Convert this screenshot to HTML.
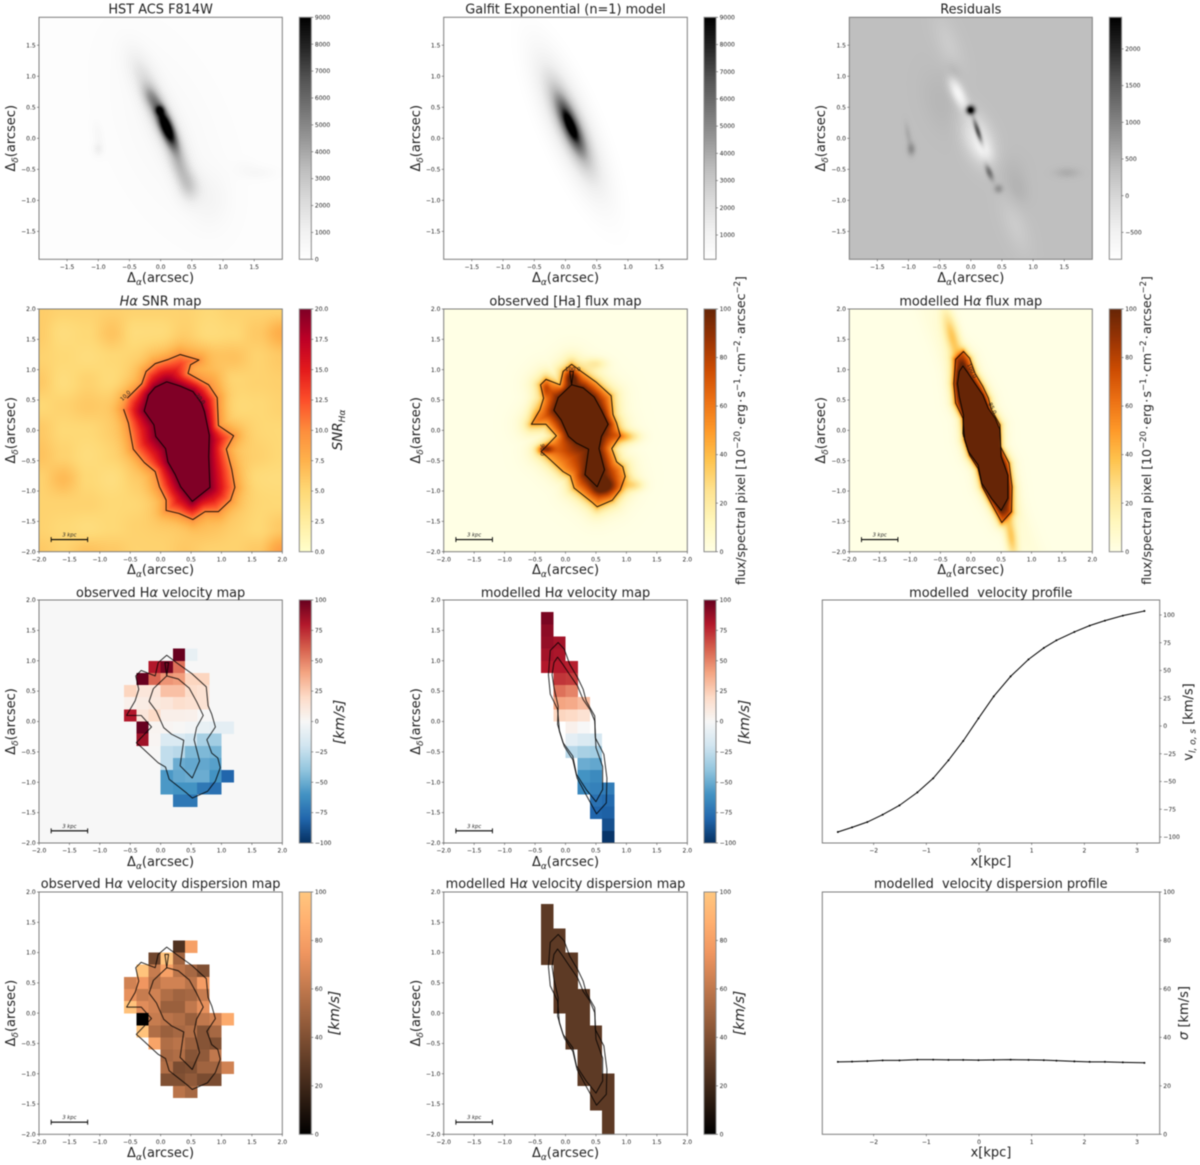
<!DOCTYPE html>
<html lang="en">
<head>
<meta charset="utf-8">
<title>Galaxy H-alpha maps and profiles</title>
<style>
html,body{margin:0;padding:0;background:#fff;}
#figure{position:relative;width:1200px;height:1165px;overflow:hidden;background:#fff;filter:blur(0.45px);}
#figure canvas{position:absolute;display:block;}
#figure svg{position:absolute;left:0;top:0;}
text{font-family:"DejaVu Sans","Liberation Sans",sans-serif;fill:#222;}
</style>
</head>
<body>
<div id="figure"></div>
<script>
/* ---------- chart data ---------- */
const _ = null;

/* observed velocity map: 0.2" spaxels, first column left edge -0.6, first row top edge 1.2 */
const velocityObserved = [
[_,_,_,_,100,-8,_,_,_],
[_,_,80,96,55,_,_,_,_],
[_,100,58,45,42,22,22,_,_],
[22,12,12,30,30,18,15,_,_],
[5,8,10,12,17,15,15,_,_],
[80,12,20,6,6,5,_,_,_],
[_,100,3,2,1,-2,-8,-10,-10],
[_,85,2,-15,-15,-20,-33,-35,_],
[_,_,1,-25,-28,-45,-45,-47,_],
[_,_,_,-25,-50,-52,-52,-55,_],
[_,_,_,-58,-52,-50,-50,-60,-80],
[_,_,_,-58,-60,-60,-72,-75,_],
[_,_,_,_,-72,-72,_,_,_]];

const dispersionObserved = [
[_,_,_,_,25,80,_,_,_],
[_,_,35,98,50,_,_,_,_],
[_,98,62,80,58,52,40,_,_],
[65,75,58,65,65,58,78,_,_],
[72,62,65,55,50,52,62,_,_],
[97,70,65,48,48,60,72,_,_],
[_,0,62,58,55,48,60,65,85],
[_,98,55,48,52,55,42,52,_],
[_,_,82,55,58,48,42,40,_],
[_,_,_,52,55,42,45,60,_],
[_,_,_,55,38,40,50,50,65],
[_,_,_,40,40,45,38,38,_],
[_,_,_,_,58,52,_,_,_]];

/* modelled maps: first column left edge -0.4, first row top edge 1.8 */
const velocityModel = [
[95,_,_,_,_,_],[90,_,_,_,_,_],[88,84,_,_,_,_],[84,82,_,_,_,_],
[80,80,78,_,_,_],[_,72,70,_,_,_],[_,55,50,_,_,_],[_,40,38,32,_,_],
[_,22,20,15,_,_],[_,_,5,0,_,_],[_,_,-10,-15,-18,_],[_,_,-28,-33,-35,_],
[_,_,_,-50,-52,_],[_,_,_,-60,-64,_],[_,_,_,-65,-68,-70],[_,_,_,_,-75,-78],
[_,_,_,_,-80,-82],[_,_,_,_,_,-88],[_,_,_,_,_,-98]];

const dispersionModel = [
[29,_,_,_,_,_],[29,_,_,_,_,_],[29,29,_,_,_,_],[29,29,_,_,_,_],
[29,29,29,_,_,_],[_,29,29,_,_,_],[_,29,29,_,_,_],[_,29,29,29,_,_],
[_,29,29,29,_,_],[_,_,29,29,_,_],[_,_,29,29,29,_],[_,_,29,29,29,_],
[_,_,_,29,29,_],[_,_,_,29,29,_],[_,_,_,29,29,29],[_,_,_,_,29,29],
[_,_,_,_,29,29],[_,_,_,_,_,29],[_,_,_,_,_,29]];

/* profiles */
const profileRadius = [-2.68,-2.41,-2.12,-1.83,-1.51,-1.17,-0.87,-0.58,-0.30,-0.01,0.28,0.60,0.94,1.23,1.47,1.81,2.10,2.39,2.73,3.14];
const profileVelocity = [-95.5,-91.3,-86.5,-79.9,-71.5,-59.8,-47.1,-30.9,-13.5,6.9,26.7,44.7,60,70.3,77.2,84.7,90.4,94.9,99.4,103.6];
const profileDispersion = [29.9,30,30.2,30.5,30.5,30.8,30.8,30.7,30.7,30.6,30.7,30.8,30.7,30.6,30.4,30.1,29.9,29.9,29.7,29.5];

/* contours, arcsec */
const snrContour10 = [[-.61,.35],[-.53,.12],[-.45,-.31],[-.27,-.53],[-.09,-.68],[-.02,-.93],[.09,-1.15],[.09,-1.32],[.30,-1.37],[.53,-1.47],[.73,-1.34],[.95,-1.34],[1.15,-1.15],[1.22,-.94],[1.17,-.65],[1.08,-.31],[1.20,-.09],[.95,.08],[.93,.54],[.79,.75],[.45,.94],[.49,1.08],[.63,1.16],[.32,1.25],[.13,1.17],[-.09,1.10],[-.24,.97],[-.31,.77],[-.39,.69],[-.55,.53]];
const snrContour20 = [[.10,.80],[-.09,.71],[-.20,.58],[-.27,.32],[-.11,.09],[-.08,-.10],[.08,-.30],[.12,-.52],[.24,-.73],[.33,-.93],[.52,-1.17],[.81,-.94],[.79,-.43],[.80,-.08],[.72,.31],[.67,.45],[.53,.64],[.32,.73],[.10,.80]];
const obsFluxOuter = [[.10,1.09],[.26,.97],[.51,.79],[.75,.57],[.78,.26],[.84,.12],[.90,-.09],[.76,-.30],[.84,-.52],[.94,-.60],[.98,-.76],[.90,-.98],[.77,-1.15],[.52,-1.26],[.43,-1.18],[.14,-.95],[.08,-.75],[-.04,-.68],[-.32,-.42],[-.40,-.35],[-.15,-.09],[-.32,.10],[-.56,.10],[-.42,.34],[-.36,.53],[-.41,.75],[-.32,.84],[-.09,.75],[-.04,.97],[.10,1.09]];
const obsFluxInner = [[.10,.75],[.29,.70],[.47,.55],[.59,.33],[.70,.10],[.59,-.10],[.55,-.30],[.64,-.65],[.52,-.93],[.32,-.73],[.38,-.31],[.18,-.21],[.05,-.10],[-.07,.17],[-.19,.33],[-.12,.54],[.10,.75]];
const obsFluxKnot = [[.10,.75],[.07,.97],[.13,.97],[.10,.75]];
const modelFluxOuter = [[-.12,1.30],[-.02,1.19],[.07,.94],[.20,.72],[.29,.53],[.34,.34],[.48,.09],[.49,-.27],[.63,-.54],[.68,-.93],[.67,-1.34],[.51,-1.52],[.34,-1.21],[.19,-.93],[.12,-.63],[-.02,-.41],[-.10,-.16],[-.13,.20],[-.25,.45],[-.28,.77],[-.25,1.17],[-.12,1.30]];
const modelFluxInner = [[-.13,1.06],[-.05,.95],[.07,.77],[.20,.58],[.29,.36],[.40,.20],[.48,.01],[.50,-.43],[.61,-.74],[.61,-1.12],[.50,-1.32],[.34,-1.12],[.18,-.87],[.12,-.57],[-.04,-.35],[-.13,-.05],[-.12,.25],[-.19,.56],[-.22,.77],[-.19,.97],[-.13,1.06]];

/* SNR background levels on a 0.4" grid, top row y=2.0, left column x=-2.0 */
const snrBackground = [
[5.8,5.4,5.4,5.6,5.4,5.4,5.4,5,5.4,5.4,5.4],
[5.8,4.6,5,6.3,4.6,4.6,5.4,4.6,5,6,7.8],
[5.4,5,4.6,5,5,5.4,6,6,6.4,5.4,6],
[6,4.6,5.4,4.6,5.4,6.4,7.4,7,5,5.4,5.6],
[5,5.4,6,5.4,6.4,7.4,7.4,6.4,4.6,5,5.4],
[6,5,5,5.4,6,7.4,7.4,6.4,5.4,5,5],
[6.4,5.4,4.6,5,5.4,7.4,7.4,6.4,5.4,5.4,5],
[5.4,6.9,5,4.4,5.4,6.4,7.4,6.4,5.4,4.6,4.6],
[5.4,5.4,5.4,5,5,5.4,7.4,6.4,5.4,5,5],
[5.4,5,4.6,5,5.4,5.4,5.4,6,5.4,5,6],
[6,5.4,6.4,6,5.4,5.4,6,5.4,5.4,6,8.8]];

/* image components: [x, y, major sigma, minor sigma, angle from vertical deg, amplitude] */
const hstComponents = [
[.10,.17,.23,.07,22,7800],[-.01,.45,.05,.05,0,3500],[.05,.25,.45,.13,24,3100],
[.32,-.5,.27,.11,20,2300],[.47,-.8,.17,.13,0,1350],[-.15,.65,.16,.09,25,2000],
[-.3,1.05,.3,.14,25,1000],[.8,-1.0,.3,.2,0,480],[.1,.1,1.1,.55,23,340],
[-1.0,-.18,.07,.055,0,900],[-1.0,.05,.14,.055,10,380],[1.55,-.56,.07,.2,0,400],[1.35,-.45,.07,.12,0,180]];
const imageBackground = [130];
const galfitDisk = [.08,.2,.45,.12,23,14000];
const residualBase = [340];
const residualComponents = [
[.0,.45,.05,.05,0,2600],[.12,.1,.14,.03,18,1900],[.3,-.55,.09,.035,22,1000],[.45,-.82,.05,.05,0,500],
[-.95,-.18,.07,.045,0,520],[-1.0,.05,.13,.035,10,220],[1.55,-.56,.06,.14,0,200],
[.75,-.85,.2,.13,10,130],[-.3,1.05,.12,.1,15,220],[-.45,.55,.4,.22,20,100],[.6,-.5,.2,.2,0,70],
[-.2,.72,.2,.07,25,-950],[.12,-.02,.3,.16,22,-700],[.22,-.2,.12,.08,30,-350],
[-.35,1.5,.35,.14,20,-180],[.72,-1.4,.35,.14,20,-180]];
const obsFluxComponents = [
[-.33,-.30,.05,.09,0,45],[.68,-.92,.1,.14,0,32],[.1,.88,.08,.08,0,32],[-.33,.68,.1,.05,0,20],
[1.0,-.1,.07,.15,0,26],[1.12,-.9,.07,.12,0,20],[.5,1.1,.07,.13,0,15],[-.5,.3,.15,.08,0,10]];
const modelFluxComponents = [
[-.3,1.55,.32,.085,15,34],[.67,-1.75,.28,.07,8,34],[.2,-.1,1.6,.13,23,8]];

/* tick labels */
const ticksOffset15 = [-1.5,-1,-0.5,0,0.5,1,1.5];
const ticksOffset20 = [-2,-1.5,-1,-0.5,0,0.5,1,1.5,2];
const ticksPhot = [0,1000,2000,3000,4000,5000,6000,7000,8000,9000];
const ticksModel = [1000,2000,3000,4000,5000,6000,7000,8000,9000];
const ticksResidual = [-500,0,500,1000,1500,2000];
const ticksSnr = [0,2.5,5,7.5,10,12.5,15,17.5,20];
const ticksFlux = [0,20,40,60,80,100];
const ticksVelocity = [-100,-75,-50,-25,0,25,50,75,100];
const ticksRadius = [-2,-1,0,1,2,3];
const ticksProfileDisp = [0,20,40,60,80,100];

/* colour maps */
const cmGreys = ['#ffffff','#f0f0f0','#d9d9d9','#bdbdbd','#969696','#737373','#525252','#252525','#000000'];
const cmYlOrBr = ['#ffffe5','#fff7bc','#fee391','#fec44f','#fe9929','#ec7014','#cc4c02','#993404','#662506'];
const cmYlOrRd = ['#ffffcc','#ffeda0','#fed976','#feb24c','#fd8d3c','#fc4e2a','#e31a1c','#bd0026','#800026'];
const cmRdBu = ['#053061','#2166ac','#4393c3','#92c5de','#d1e5f0','#f7f7f7','#fddbc7','#f4a582','#d6604d','#b2182b','#67001f'];
const cmCopper = ['#000000','#281910','#503220','#784b30','#a06440','#c87d50','#f09660','#ffaf6f','#ffc77f'];

/* ---------- geometry ---------- */
const NS = 'http://www.w3.org/2000/svg';
const TITLE_SIZE = 12.9;
const TICK_SIZE = 6;
const CONTOUR_COLOR = '#000';
const colBoxes = [
 {l:39,r:282.3,cl:299.3,cr:311.3,cx:160.6,yl:15},
 {l:443.7,r:687.3,cl:704,cr:716,cx:565.5,yl:420},
 {l:849.3,r:1092.3,cl:1109.3,cr:1121.6,cx:970.8,yl:825}];
const rowBoxes = [
 {t:17.3,b:259.3,title:13.5,xl:282},
 {t:309,b:551.7,title:305.5,xl:574},
 {t:600,b:843,title:597,xl:866},
 {t:892,b:1134.3,title:888,xl:1157}];

const figure = document.getElementById('figure');
const svg = document.createElementNS(NS,'svg');
svg.setAttribute('width','1200');
svg.setAttribute('height','1165');
svg.setAttribute('viewBox','0 0 1200 1165');


const defs = document.createElementNS(NS,'defs');
svg.appendChild(defs);

function mk(tag,attrs,parent){
  const el = document.createElementNS(NS,tag);
  for(const k in attrs){ el.setAttribute(k,attrs[k]); }
  (parent||svg).appendChild(el);
  return el;
}
function label(el,name){
  
  
  return el;
}
function group(name){
  const g = mk('g',{});
  
  
  return g;
}
function txt(parent,x,y,size,anchor,parts,rot,name){
  const t = mk('text',{x:x,y:y,'font-size':size,'text-anchor':anchor},parent);
  if(rot!==undefined && rot!==null){ t.setAttribute('transform','rotate('+rot+' '+x+' '+y+')'); }
  parts.forEach(function(p){
    if(typeof p==='string'){ t.appendChild(document.createTextNode(p)); return; }
    const s = mk('tspan',{},t);
    if(p.i){ s.setAttribute('font-style','italic'); }
    if(p.s){ s.setAttribute('font-size',p.s); }
    if(p.dy){ s.setAttribute('dy',p.dy); }
    s.textContent = p.t;
  });
  label(t,name);
  return t;
}
function minus(v,d){
  const s = d===undefined ? String(Math.abs(v)) : Math.abs(v).toFixed(d);
  return (v<0?'\u2212':'')+s;
}
function hex(c){ return [parseInt(c.substr(1,2),16),parseInt(c.substr(3,2),16),parseInt(c.substr(5,2),16)]; }
function sample(cm,t){
  t = Math.max(0,Math.min(1,t));
  const f = t*(cm.length-1), i = Math.min(cm.length-2,Math.floor(f)), w = f-i;
  const a = hex(cm[i]), b = hex(cm[i+1]);
  return [a[0]+(b[0]-a[0])*w,a[1]+(b[1]-a[1])*w,a[2]+(b[2]-a[2])*w];
}
function css(c){ return 'rgb('+Math.round(c[0])+','+Math.round(c[1])+','+Math.round(c[2])+')'; }

/* field helpers */
function gauss(b,x,y){
  const t=b[4]*Math.PI/180, dx=x-b[0], dy=y-b[1];
  const u=dx*Math.sin(t)-dy*Math.cos(t), v=dx*Math.cos(t)+dy*Math.sin(t);
  return b[5]*Math.exp(-.5*(u*u/(b[2]*b[2])+v*v/(b[3]*b[3])));
}
function sumG(list,x,y){ let s=0; for(let i=0;i<list.length;i++){ s+=gauss(list[i],x,y); } return s; }
function signedDist(poly,x,y){
  let best=1e9, inside=false;
  const n=poly.length;
  for(let i=0,j=n-1;i<n;j=i++){
    const ax=poly[j][0], ay=poly[j][1], bx=poly[i][0], by=poly[i][1];
    const ex=bx-ax, ey=by-ay, l=ex*ex+ey*ey;
    let h=l>0?((x-ax)*ex+(y-ay)*ey)/l:0;
    h=Math.max(0,Math.min(1,h));
    const qx=ax+h*ex-x, qy=ay+h*ey-y, d=qx*qx+qy*qy;
    if(d<best){ best=d; }
    if((ay>y)!==(by>y) && x<ax+(y-ay)/(by-ay)*ex){ inside=!inside; }
  }
  const r=Math.sqrt(best);
  return inside?-r:r;
}
function snrBg(x,y){
  const fx=(x+2)/.4, fy=(2-y)/.4;
  const ix=Math.max(0,Math.min(9,Math.floor(fx))), iy=Math.max(0,Math.min(9,Math.floor(fy)));
  let a=fx-ix, b=fy-iy;
  a=a*a*(3-2*a); b=b*b*(3-2*b);
  const g=snrBackground;
  return g[iy][ix]*(1-a)*(1-b)+g[iy][ix+1]*a*(1-b)+g[iy+1][ix]*(1-a)*b+g[iy+1][ix+1]*a*b;
}
function twoContourField(outer,inner,lo,hi,drop,x,y,outFn){
  const dO=signedDist(outer,x,y), dI=signedDist(inner,x,y);
  if(dI<=0){ return hi*1.2; }
  if(dO<=0){ const a=-dO; return lo+(hi-lo)*a/(a+dI); }
  return outFn(dO);
}
function snrField(x,y){
  const bg=snrBg(x,y);
  return twoContourField(snrContour10,snrContour20,10,20,0,x,y,function(d){ return bg+(10-bg)*Math.exp(-d/.13); });
}
function obsFluxField(x,y){
  return twoContourField(obsFluxOuter,obsFluxInner,45,100,0,x,y,function(d){ return 45*Math.exp(-d/.11); })+sumG(obsFluxComponents,x,y);
}
function modelFluxField(x,y){
  return twoContourField(modelFluxOuter,modelFluxInner,55,100,0,x,y,function(d){ return 55*Math.exp(-d/.055); })+sumG(modelFluxComponents,x,y);
}
function hstField(x,y){ return imageBackground[0]+sumG(hstComponents,x,y); }
function galfitField(x,y){
  const b=galfitDisk, t=b[4]*Math.PI/180, dx=x-b[0], dy=y-b[1];
  const u=dx*Math.sin(t)-dy*Math.cos(t), v=dx*Math.cos(t)+dy*Math.sin(t);
  return b[5]*Math.exp(-Math.sqrt(u*u/(b[2]*b[2])+v*v/(b[3]*b[3])));
}
function residualField(x,y){ return residualBase[0]+sumG(residualComponents,x,y); }

/* panel pieces */
function drawImage(name,box,lim,fn,cm,vmin,vmax){
  const w=Math.round(box.r-box.l), h=Math.round(box.b-box.t);
  const c=document.createElement('canvas');
  c.width=w; c.height=h;
  c.style.left=box.l+'px'; c.style.top=box.t+'px';
  c.style.width=(box.r-box.l)+'px'; c.style.height=(box.b-box.t)+'px';
  
  
  const ctx=c.getContext('2d'), img=ctx.createImageData(w,h);
  for(let j=0;j<h;j++){
    const y=lim-(j+.5)/h*2*lim;
    for(let i=0;i<w;i++){
      const x=-lim+(i+.5)/w*2*lim;
      const col=sample(cm,(fn(x,y)-vmin)/(vmax-vmin)), k=(j*w+i)*4;
      img.data[k]=col[0]; img.data[k+1]=col[1]; img.data[k+2]=col[2]; img.data[k+3]=255;
    }
  }
  ctx.putImageData(img,0,0);
  figure.appendChild(c);
}
function scales(box,lim){
  return {
    sx:function(v){ return box.l+(v+lim)/(2*lim)*(box.r-box.l); },
    sy:function(v){ return box.t+(lim-v)/(2*lim)*(box.b-box.t); }
  };
}
function drawCells(g,name,grid,x0,y0,sc,cm,vmin,vmax){
  grid.forEach(function(row,r){
    row.forEach(function(v,c){
      if(v===null){ return; }
      const xa=sc.sx(x0+c*.2), xb=sc.sx(x0+(c+1)*.2), ya=sc.sy(y0-r*.2), yb=sc.sy(y0-(r+1)*.2);
      const cell=mk('rect',{x:xa,y:ya,width:xb-xa+.2,height:yb-ya+.2,fill:css(sample(cm,(v-vmin)/(vmax-vmin))),'shape-rendering':'crispEdges'},g);
      label(cell,name);
    });
  });
}
function drawContour(g,name,pts,sc,closed,stroke,op){
  const d=pts.map(function(p){ return sc.sx(p[0]).toFixed(2)+','+sc.sy(p[1]).toFixed(2); }).join(' ');
  const el=mk(closed?'polygon':'polyline',{points:d,fill:'none',stroke:CONTOUR_COLOR,'stroke-width':.95,'stroke-opacity':op,'stroke-linejoin':'round'},g);
  label(el,name);
}
function drawFrame(g,box,lim,ticks,name){
  const sc=scales(box,lim);
  const fr=mk('rect',{x:box.l,y:box.t,width:box.r-box.l,height:box.b-box.t,fill:'none',stroke:'#7d7d7d','stroke-width':1},g);
  label(fr,name+'-frame');
  ticks.forEach(function(v){
    const X=sc.sx(v), Y=sc.sy(v);
    label(mk('line',{x1:X,x2:X,y1:box.b,y2:box.b+2,stroke:'#555','stroke-width':.6},g),name+'-x-tick');
    label(mk('line',{x1:box.l-2,x2:box.l,y1:Y,y2:Y,stroke:'#555','stroke-width':.6},g),name+'-y-tick');
    const s=minus(v,1);
    txt(g,X,box.b+9.6,TICK_SIZE,'middle',[s],null,name+'-x-tick-label');
    txt(g,box.l-3.3,Y+2.1,TICK_SIZE,'end',[s],null,name+'-y-tick-label');
  });
}
function axisLabels(g,colBox,rowBox,name){
  txt(g,colBox.cx,rowBox.xl,13,'middle',['\u0394',{t:'\u03b1',i:1,s:9,dy:3},{t:'(arcsec)',dy:-3}],null,name+'-x-axis-title');
  const midY=(rowBox.t+rowBox.b)/2;
  txt(g,colBox.yl,midY,13,'middle',['\u0394',{t:'\u03b4',i:1,s:9,dy:3},{t:'(arcsec)',dy:-3}],-90,name+'-y-axis-title');
}
function colorbar(g,colBox,rowBox,cm,vmin,vmax,ticks,dec,name){
  const id='grad-'+name;
  const lg=mk('linearGradient',{id:id,x1:0,y1:1,x2:0,y2:0},defs);
  cm.forEach(function(col,i){ mk('stop',{offset:i/(cm.length-1),'stop-color':col},lg); });
  const h=rowBox.b-rowBox.t;
  const bar=mk('rect',{x:colBox.cl,y:rowBox.t,width:colBox.cr-colBox.cl,height:h,fill:'url(#'+id+')',stroke:'#8a8a8a','stroke-width':1},g);
  label(bar,name+'-colorbar');
  ticks.forEach(function(v){
    const Y=rowBox.b-(v-vmin)/(vmax-vmin)*h;
    label(mk('line',{x1:colBox.cr,x2:colBox.cr+2,y1:Y,y2:Y,stroke:'#555','stroke-width':.6},g),name+'-colorbar-tick');
    txt(g,colBox.cr+3.6,Y+2.1,TICK_SIZE,'start',[minus(v,dec)],null,name+'-colorbar-tick-label');
  });
}
function scaleBar(g,box,lim,name){
  const sc=scales(box,lim), a=sc.sx(-1.8), b=sc.sx(-1.2), y=sc.sy(-1.8);
  label(mk('line',{x1:a,x2:b,y1:y,y2:y,stroke:'#000','stroke-width':1.1},g),name+'-scale-bar');
  label(mk('line',{x1:a,x2:a,y1:y-2.5,y2:y+2.5,stroke:'#000','stroke-width':.9},g),name+'-scale-bar-cap');
  label(mk('line',{x1:b,x2:b,y1:y-2.5,y2:y+2.5,stroke:'#000','stroke-width':.9},g),name+'-scale-bar-cap');
  txt(g,(a+b)/2,y-3,5.2,'middle',[{t:'3 kpc',i:1}],null,name+'-scale-bar-label');
}
function contourLabel(g,sc,x,y,rot,s,name){
  txt(g,sc.sx(x),sc.sy(y),5.4,'middle',[s],rot,name);
}

/* ---------- row 1: photometry ---------- */
const c0=colBoxes[0], c1=colBoxes[1], c2=colBoxes[2];
const r0=rowBoxes[0], r1=rowBoxes[1], r2=rowBoxes[2], r3=rowBoxes[3];
function box(c,r){ return {l:c.l,r:c.r,t:r.t,b:r.b}; }

(function(){
  let g=group('hst-panel');
  drawImage('hst-image',box(c0,r0),1.95,hstField,cmGreys,0,9000);
  drawFrame(g,box(c0,r0),1.95,ticksOffset15,'hst');
  axisLabels(g,c0,r0,'hst');
  txt(g,c0.cx,r0.title,TITLE_SIZE,'middle',['HST ACS F814W'],null,'hst-title');
  colorbar(g,c0,r0,cmGreys,0,9000,ticksPhot,undefined,'hst');

  g=group('galfit-panel');
  drawImage('galfit-image',box(c1,r0),1.95,galfitField,cmGreys,107,9000);
  drawFrame(g,box(c1,r0),1.95,ticksOffset15,'galfit');
  axisLabels(g,c1,r0,'galfit');
  txt(g,c1.cx,r0.title,TITLE_SIZE,'middle',['Galfit Exponential (n=1) model'],null,'galfit-title');
  colorbar(g,c1,r0,cmGreys,107,9000,ticksModel,undefined,'galfit');

  g=group('residuals-panel');
  drawImage('residuals-image',box(c2,r0),1.95,residualField,cmGreys,-867,2431);
  drawFrame(g,box(c2,r0),1.95,ticksOffset15,'residuals');
  axisLabels(g,c2,r0,'residuals');
  txt(g,c2.cx,r0.title,TITLE_SIZE,'middle',['Residuals'],null,'residuals-title');
  colorbar(g,c2,r0,cmGreys,-867,2431,ticksResidual,undefined,'residuals');
})();

/* ---------- row 2: SNR and flux ---------- */
const fluxParts=['flux/spectral pixel [10',{t:'\u221220',s:8.5,dy:-5},{t:'\u200a\u00b7\u200aerg\u200a\u00b7\u200as',dy:5},{t:'\u22121',s:8.5,dy:-5},{t:'\u200a\u00b7\u200acm',dy:5},{t:'\u22122',s:8.5,dy:-5},{t:'\u200a\u00b7\u200aarcsec',dy:5},{t:'\u22122',s:8.5,dy:-5},{t:']',dy:5}];
(function(){
  let g=group('snr-panel'), b=box(c0,r1), sc=scales(b,2);
  drawImage('snr-image',b,2,snrField,cmYlOrRd,0,20);
  drawContour(g,'snr-contour-10',snrContour10,sc,false,'#222',.9);
  drawContour(g,'snr-contour-20',snrContour20,sc,false,'#222',.9);
  contourLabel(g,sc,-.56,.55,-45,'10.0','snr-contour-label-10');
  contourLabel(g,sc,.63,.5,52,'20.0','snr-contour-label-20');
  scaleBar(g,b,2,'snr');
  drawFrame(g,b,2,ticksOffset20,'snr');
  axisLabels(g,c0,r1,'snr');
  txt(g,c0.cx,r1.title,TITLE_SIZE,'middle',[{t:'H\u03b1',i:1},' SNR map'],null,'snr-title');
  colorbar(g,c0,r1,cmYlOrRd,0,20,ticksSnr,1,'snr');
  txt(g,342,430,13.5,'middle',[{t:'SNR',i:1},{t:'H\u03b1',i:1,s:9,dy:3}],-90,'snr-colorbar-title');

  g=group('observed-flux-panel'); b=box(c1,r1); sc=scales(b,2);
  drawImage('observed-flux-image',b,2,obsFluxField,cmYlOrBr,0,100);
  drawContour(g,'observed-flux-contour-outer',obsFluxOuter,sc,false,'#222',.9);
  drawContour(g,'observed-flux-contour-inner',obsFluxInner,sc,false,'#222',.9);
  drawContour(g,'observed-flux-contour-knot',obsFluxKnot,sc,false,'#222',.9);
  contourLabel(g,sc,.12,.98,0,'100.0','observed-flux-contour-label-100');
  contourLabel(g,sc,-.41,-.32,90,'90.0','observed-flux-contour-label-90');
  scaleBar(g,b,2,'observed-flux');
  drawFrame(g,b,2,ticksOffset20,'observed-flux');
  axisLabels(g,c1,r1,'observed-flux');
  txt(g,c1.cx,r1.title,TITLE_SIZE,'middle',['observed [Ha] flux map'],null,'observed-flux-title');
  colorbar(g,c1,r1,cmYlOrBr,0,100,ticksFlux,undefined,'observed-flux');
  txt(g,745,430.5,12.5,'middle',fluxParts,-90,'observed-flux-colorbar-title');

  g=group('modelled-flux-panel'); b=box(c2,r1); sc=scales(b,2);
  drawImage('modelled-flux-image',b,2,modelFluxField,cmYlOrBr,0,100);
  drawContour(g,'modelled-flux-contour-outer',modelFluxOuter,sc,true,'#222',.85);
  drawContour(g,'modelled-flux-contour-inner',modelFluxInner,sc,true,'#222',.9);
  contourLabel(g,sc,-.01,.97,65,'100.0','modelled-flux-contour-label-100');
  contourLabel(g,sc,.33,.35,65,'85.0','modelled-flux-contour-label-85');
  scaleBar(g,b,2,'modelled-flux');
  drawFrame(g,b,2,ticksOffset20,'modelled-flux');
  axisLabels(g,c2,r1,'modelled-flux');
  txt(g,c2.cx,r1.title,TITLE_SIZE,'middle',['modelled H',{t:'\u03b1',i:1},' flux map'],null,'modelled-flux-title');
  colorbar(g,c2,r1,cmYlOrBr,0,100,ticksFlux,undefined,'modelled-flux');
  txt(g,1151,430.5,12.5,'middle',fluxParts,-90,'modelled-flux-colorbar-title');
})();

/* ---------- rows 3 and 4: kinematics ---------- */
(function(){
  let g=group('observed-velocity-panel'), b=box(c0,r2), sc=scales(b,2);
  label(mk('rect',{x:b.l,y:b.t,width:b.r-b.l,height:b.b-b.t,fill:'#f7f7f7'},g),'observed-velocity-background');
  drawCells(g,'observed-velocity-cell',velocityObserved,-.6,1.2,sc,cmRdBu,-100,100);
  drawContour(g,'observed-velocity-contour-outer',obsFluxOuter,sc,true,'#222',.85);
  drawContour(g,'observed-velocity-contour-inner',obsFluxInner,sc,true,'#222',.85);
  drawContour(g,'observed-velocity-contour-knot',obsFluxKnot,sc,true,'#222',.85);
  scaleBar(g,b,2,'observed-velocity');
  drawFrame(g,b,2,ticksOffset20,'observed-velocity');
  axisLabels(g,c0,r2,'observed-velocity');
  txt(g,c0.cx,r2.title,TITLE_SIZE,'middle',['observed H',{t:'\u03b1',i:1},' velocity map'],null,'observed-velocity-title');
  colorbar(g,c0,r2,cmRdBu,-100,100,ticksVelocity,undefined,'observed-velocity');
  txt(g,344,722,14,'middle',[{t:'[km/s]',i:1}],-90,'observed-velocity-colorbar-title');

  g=group('modelled-velocity-panel'); b=box(c1,r2); sc=scales(b,2);
  drawCells(g,'modelled-velocity-cell',velocityModel,-.4,1.8,sc,cmRdBu,-100,100);
  drawContour(g,'modelled-velocity-contour-outer',modelFluxOuter,sc,true,'#222',.85);
  drawContour(g,'modelled-velocity-contour-inner',modelFluxInner,sc,true,'#222',.85);
  scaleBar(g,b,2,'modelled-velocity');
  drawFrame(g,b,2,ticksOffset20,'modelled-velocity');
  axisLabels(g,c1,r2,'modelled-velocity');
  txt(g,c1.cx,r2.title,TITLE_SIZE,'middle',['modelled H',{t:'\u03b1',i:1},' velocity map'],null,'modelled-velocity-title');
  colorbar(g,c1,r2,cmRdBu,-100,100,ticksVelocity,undefined,'modelled-velocity');
  txt(g,749,722,14,'middle',[{t:'[km/s]',i:1}],-90,'modelled-velocity-colorbar-title');

  g=group('observed-dispersion-panel'); b=box(c0,r3); sc=scales(b,2);
  drawCells(g,'observed-dispersion-cell',dispersionObserved,-.6,1.2,sc,cmCopper,0,100);
  drawContour(g,'observed-dispersion-contour-outer',obsFluxOuter,sc,true,'#222',.85);
  drawContour(g,'observed-dispersion-contour-inner',obsFluxInner,sc,true,'#222',.85);
  drawContour(g,'observed-dispersion-contour-knot',obsFluxKnot,sc,true,'#222',.85);
  scaleBar(g,b,2,'observed-dispersion');
  drawFrame(g,b,2,ticksOffset20,'observed-dispersion');
  axisLabels(g,c0,r3,'observed-dispersion');
  txt(g,c0.cx,r3.title,TITLE_SIZE,'middle',['observed H',{t:'\u03b1',i:1},' velocity dispersion map'],null,'observed-dispersion-title');
  colorbar(g,c0,r3,cmCopper,0,100,ticksFlux,undefined,'observed-dispersion');
  txt(g,339,1013,14,'middle',[{t:'[km/s]',i:1}],-90,'observed-dispersion-colorbar-title');

  g=group('modelled-dispersion-panel'); b=box(c1,r3); sc=scales(b,2);
  drawCells(g,'modelled-dispersion-cell',dispersionModel,-.4,1.8,sc,cmCopper,0,100);
  drawContour(g,'modelled-dispersion-contour-outer',modelFluxOuter,sc,true,'#222',.85);
  drawContour(g,'modelled-dispersion-contour-inner',modelFluxInner,sc,true,'#222',.85);
  scaleBar(g,b,2,'modelled-dispersion');
  drawFrame(g,b,2,ticksOffset20,'modelled-dispersion');
  axisLabels(g,c1,r3,'modelled-dispersion');
  txt(g,c1.cx,r3.title,TITLE_SIZE,'middle',['modelled H',{t:'\u03b1',i:1},' velocity dispersion map'],null,'modelled-dispersion-title');
  colorbar(g,c1,r3,cmCopper,0,100,ticksFlux,undefined,'modelled-dispersion');
  txt(g,744,1013,14,'middle',[{t:'[km/s]',i:1}],-90,'modelled-dispersion-colorbar-title');
})();

/* ---------- profiles ---------- */
function profile(rowBox,values,ymin,ymax,ticks,name,titleParts){
  const g=group(name+'-panel');
  const L=822.3, R=1159.7, xmin=-2.975, xmax=3.43;
  const sx=function(v){ return L+(v-xmin)/(xmax-xmin)*(R-L); };
  const sy=function(v){ return rowBox.b-(v-ymin)/(ymax-ymin)*(rowBox.b-rowBox.t); };
  const pts=profileRadius.map(function(x,i){ return sx(x).toFixed(2)+','+sy(values[i]).toFixed(2); }).join(' ');
  label(mk('polyline',{points:pts,fill:'none',stroke:'#000','stroke-width':1},g),name+'-line');
  profileRadius.forEach(function(x,i){
    label(mk('circle',{cx:sx(x),cy:sy(values[i]),r:.95,fill:'#000'},g),name+'-point');
  });
  label(mk('rect',{x:L,y:rowBox.t,width:R-L,height:rowBox.b-rowBox.t,fill:'none',stroke:'#7d7d7d','stroke-width':1},g),name+'-frame');
  ticksRadius.forEach(function(v){
    const X=sx(v);
    label(mk('line',{x1:X,x2:X,y1:rowBox.b,y2:rowBox.b+2,stroke:'#555','stroke-width':.6},g),name+'-x-tick');
    txt(g,X,rowBox.b+9.6,TICK_SIZE,'middle',[minus(v)],null,name+'-x-tick-label');
  });
  ticks.forEach(function(v){
    const Y=sy(v);
    label(mk('line',{x1:R,x2:R+2,y1:Y,y2:Y,stroke:'#555','stroke-width':.6},g),name+'-y-tick');
    txt(g,R+3.6,Y+2.1,TICK_SIZE,'start',[minus(v)],null,name+'-y-tick-label');
  });
  txt(g,990.8,rowBox.title,TITLE_SIZE,'middle',titleParts,null,name+'-title');
  txt(g,991,rowBox.xl-.3,13,'middle',['x[kpc]'],null,name+'-x-axis-title');
}
profile(r2,profileVelocity,-105.4,113.5,ticksVelocity,'velocity-profile',['modelled\u00a0\u00a0velocity profile']);
profile(r3,profileDispersion,0,100,ticksProfileDisp,'dispersion-profile',['modelled\u00a0\u00a0velocity dispersion profile']);
(function(){
  const g=group('profile-axis-titles');
  txt(g,1192.7,722,13,'middle',['v',{t:'l, o, s',i:1,s:9,dy:3},{t:' [km/s]',dy:-3}],-90,'velocity-profile-y-axis-title');
  txt(g,1188,1013,13,'middle',[{t:'\u03c3',i:1},' [km/s]'],-90,'dispersion-profile-y-axis-title');
})();

figure.appendChild(svg);
</script>
</body>
</html>
